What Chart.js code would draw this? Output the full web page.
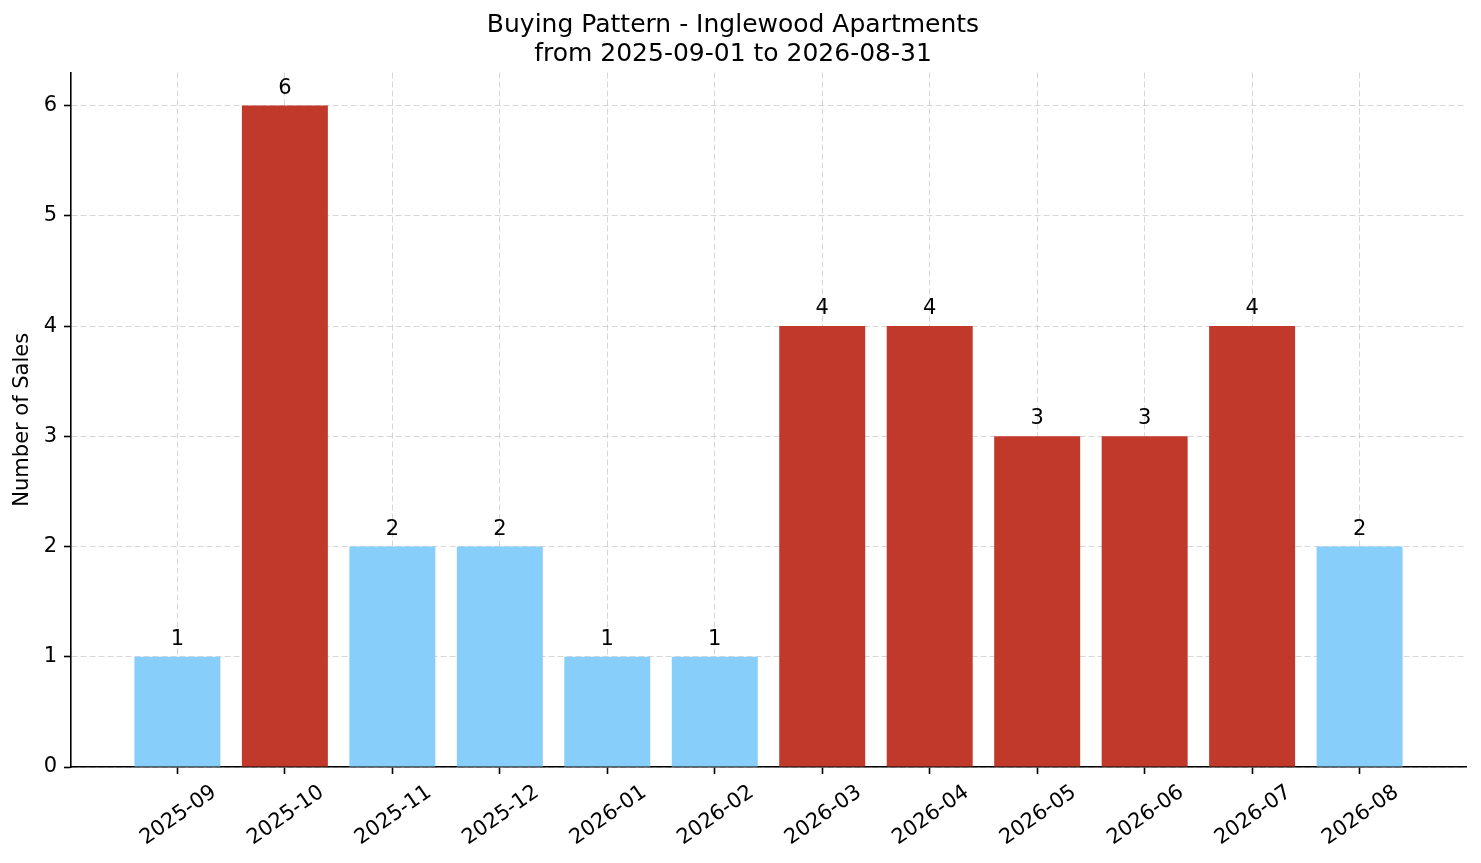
<!DOCTYPE html>
<html>
<head>
<meta charset="utf-8">
<script src="https://cdn.jsdelivr.net/npm/chart.js@4"></script>
<style>
  html, body { margin: 0; padding: 0; background: #fff; }
  #wrap { width: 1481px; height: 863px; }
</style>
</head>
<body>
<div id="wrap"><canvas id="salesChart" width="1481" height="863"></canvas></div>
<script>
// months and number of sales per month
const months = ['2025-09', '2025-10', '2025-11', '2025-12', '2026-01', '2026-02',
                '2026-03', '2026-04', '2026-05', '2026-06', '2026-07', '2026-08'];
const sales = [1, 6, 2, 2, 1, 1, 4, 4, 3, 3, 4, 2];
const yTicks = [0, 1, 2, 3, 4, 5, 6];

const FONT = 'DejaVu Sans';
const RED = '#c0392b';
const BLUE = '#87cefa';

// months above the average get the red colour
const avg = sales.reduce((a, b) => a + b, 0) / sales.length;
const barColors = sales.map(v => v > avg ? RED : BLUE);

// value labels above each bar
const barLabels = {
    id: 'barLabels',
    afterDatasetsDraw(chart) {
        const ctx = chart.ctx;
        const meta = chart.getDatasetMeta(0);
        ctx.save();
        ctx.font = '21px "' + FONT + '"';
        ctx.fillStyle = '#000';
        ctx.textAlign = 'center';
        ctx.textBaseline = 'alphabetic';
        meta.data.forEach((bar, i) => {
            ctx.fillText(String(sales[i]), bar.x, bar.y - 12);
        });
        ctx.restore();
    }
};

Chart.defaults.font.family = FONT;
Chart.defaults.color = '#000';

new Chart(document.getElementById('salesChart'), {
    type: 'bar',
    data: {
        datasets: [{
            data: sales.map((v, i) => ({ x: i, y: v })),
            backgroundColor: barColors,
            borderWidth: 0,
            barPercentage: 0.8,
            categoryPercentage: 1.0
        }]
    },
    options: {
        responsive: false,
        animation: false,
        devicePixelRatio: 1,
        layout: { padding: { left: 0, right: 15, top: 0, bottom: 0 } },
        plugins: {
            legend: { display: false },
            tooltip: { enabled: false },
            title: {
                display: true,
                text: ['Buying Pattern - Inglewood Apartments', 'from 2025-09-01 to 2026-08-31'],
                color: '#000',
                font: { size: 25, weight: 'normal', lineHeight: 1.15 },
                padding: { top: 11, bottom: 4 }
            }
        },
        scales: {
            x: {
                type: 'linear',
                offset: false,
                min: -0.99,
                max: 11.99,
                z: 1,
                afterBuildTicks: axis => {
                    axis.ticks = months.map((_, i) => ({ value: i }));
                },
                afterFit: axis => { axis.height = 96; },
                grid: {
                    offset: false,
                    color: 'rgba(176,176,176,0.5)',
                    lineWidth: 1,
                    drawTicks: true,
                    tickLength: 7,
                    tickColor: '#000',
                    tickWidth: 1.6,
                    tickBorderDash: []
                },
                border: { display: true, color: '#000', width: 1.6, dash: [6, 3] },
                ticks: {
                    autoSkip: false,
                    minRotation: 35,
                    maxRotation: 35,
                    padding: 6,
                    labelOffset: 37,
                    font: { size: 21 },
                    callback: v => months[v]
                }
            },
            y: {
                min: 0,
                max: 6.3,
                z: 1,
                afterBuildTicks: axis => {
                    axis.ticks = yTicks.map(v => ({ value: v }));
                },
                afterFit: axis => { axis.width = 71; },
                grid: {
                    color: 'rgba(176,176,176,0.5)',
                    lineWidth: 1,
                    drawTicks: true,
                    tickLength: 7,
                    tickColor: '#000',
                    tickWidth: 1.6,
                    tickBorderDash: []
                },
                border: { display: true, color: '#000', width: 1.6, dash: [6, 3] },
                ticks: {
                    padding: 7,
                    font: { size: 21 }
                },
                title: {
                    display: true,
                    text: 'Number of Sales',
                    color: '#000',
                    font: { size: 21 },
                    padding: { top: 10, bottom: 0 }
                }
            }
        }
    },
    plugins: [barLabels]
});
</script>
</body>
</html>
